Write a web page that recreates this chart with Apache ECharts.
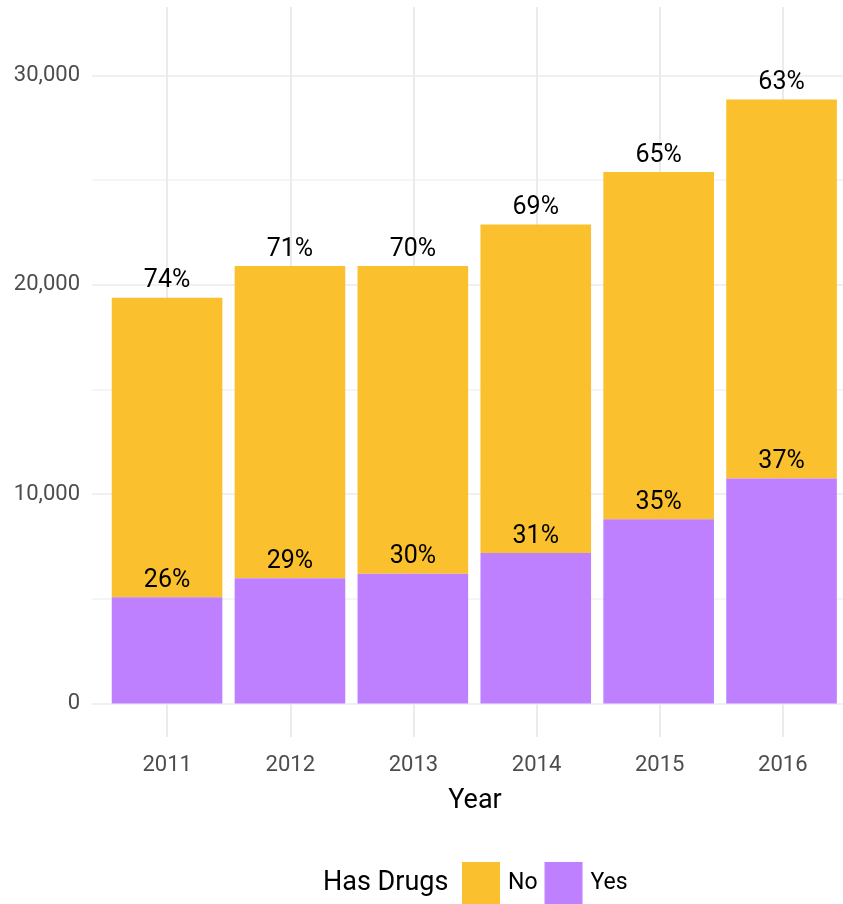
<!DOCTYPE html>
<html>
<head>
<meta charset="utf-8">
<script src="https://cdn.jsdelivr.net/npm/echarts@6/dist/echarts.min.js"></script>
<style>html,body{margin:0;padding:0;background:#fff;}#c{width:843px;height:904px;}</style>
</head>
<body>
<div id="c"></div>
<script>
var years = ['2011', '2012', '2013', '2014', '2015', '2016'];
var yesCounts = [5070, 5980, 6200, 7190, 8800, 10750];
var noCounts = [14310, 14910, 14690, 15690, 16580, 18100];
var yTicks = [0, 10000, 20000, 30000];
var legendNames = ['No', 'Yes'];

var FONT = "Roboto, 'Liberation Sans', sans-serif";
var ORANGE = '#FBC02D', PURPLE = '#BF80FF';

function pct(i, part) {
  var t = yesCounts[i] + noCounts[i];
  return Math.round(part / t * 100) + '%';
}

var chart = echarts.init(document.getElementById('c'));
chart.setOption({
  animation: false,
  textStyle: { fontFamily: FONT },
  grid: [
    { left: 92, right: 0, top: 75.3, bottom: 200.5 },
    { left: 105.6, right: -1.4, top: 7, bottom: 167 },
    { left: 167.2, right: 60.2, top: 7, bottom: 167 }
  ],
  xAxis: [
    { type: 'value', gridIndex: 0, min: 0, max: 1, show: false },
    { type: 'category', gridIndex: 1, data: years, show: false, boundaryGap: true },
    {
      type: 'category', gridIndex: 2, data: years, boundaryGap: false,
      axisLine: { show: false }, axisTick: { show: false },
      axisLabel: { fontFamily: FONT, fontSize: 22, color: '#4d4d4d', margin: 17 },
      splitLine: { show: true, lineStyle: { color: '#ebebeb', width: 2 } },
      name: 'Year', nameLocation: 'middle', nameGap: 51,
      nameTextStyle: { fontFamily: FONT, fontSize: 27, color: '#000' }
    }
  ],
  yAxis: [
    {
      type: 'value', gridIndex: 0, min: 0, max: 30000, interval: 5000,
      axisLine: { show: false }, axisTick: { show: false },
      axisLabel: {
        fontFamily: FONT, fontSize: 22, color: '#4d4d4d', margin: 12,
        formatter: function (v) { return yTicks.indexOf(v) >= 0 ? v.toLocaleString('en-US') : ''; }
      },
      splitLine: { show: true, lineStyle: { color: ['#ebebeb', '#f2f2f2'], width: 1.6 } }
    },
    { type: 'value', gridIndex: 1, min: -1600, max: 33262, show: false, splitLine: { show: false } },
    { type: 'value', gridIndex: 2, min: 0, max: 1, show: false, splitLine: { show: false } }
  ],
  legend: {
    data: legendNames, left: 457, top: 857, itemWidth: 38, itemHeight: 42, itemGap: 7,
    icon: 'rect',
    textStyle: { fontFamily: FONT, fontSize: 23, color: '#000', padding: [0, 0, 0, 3] }
  },
  graphic: [
    { type: 'text', x: 323, y: 883, style: { text: 'Has Drugs', fontFamily: FONT, fontSize: 27, fill: '#000', verticalAlign: 'middle' } }
  ],
  series: [
    {
      name: 'Yes', type: 'bar', stack: 'total', xAxisIndex: 1, yAxisIndex: 1, z: 3,
      data: yesCounts, barCategoryGap: '10%',
      itemStyle: { color: PURPLE },
      label: {
        show: true, position: 'top', distance: 4, fontFamily: FONT, fontSize: 25, color: '#000',
        formatter: function (p) { return pct(p.dataIndex, yesCounts[p.dataIndex]); }
      }
    },
    {
      name: 'No', type: 'bar', stack: 'total', xAxisIndex: 1, yAxisIndex: 1,
      data: noCounts, barCategoryGap: '10%',
      itemStyle: { color: ORANGE },
      label: {
        show: true, position: 'top', distance: 4, fontFamily: FONT, fontSize: 25, color: '#000',
        formatter: function (p) { return pct(p.dataIndex, noCounts[p.dataIndex]); }
      }
    }
  ]
});
</script>
</body>
</html>
